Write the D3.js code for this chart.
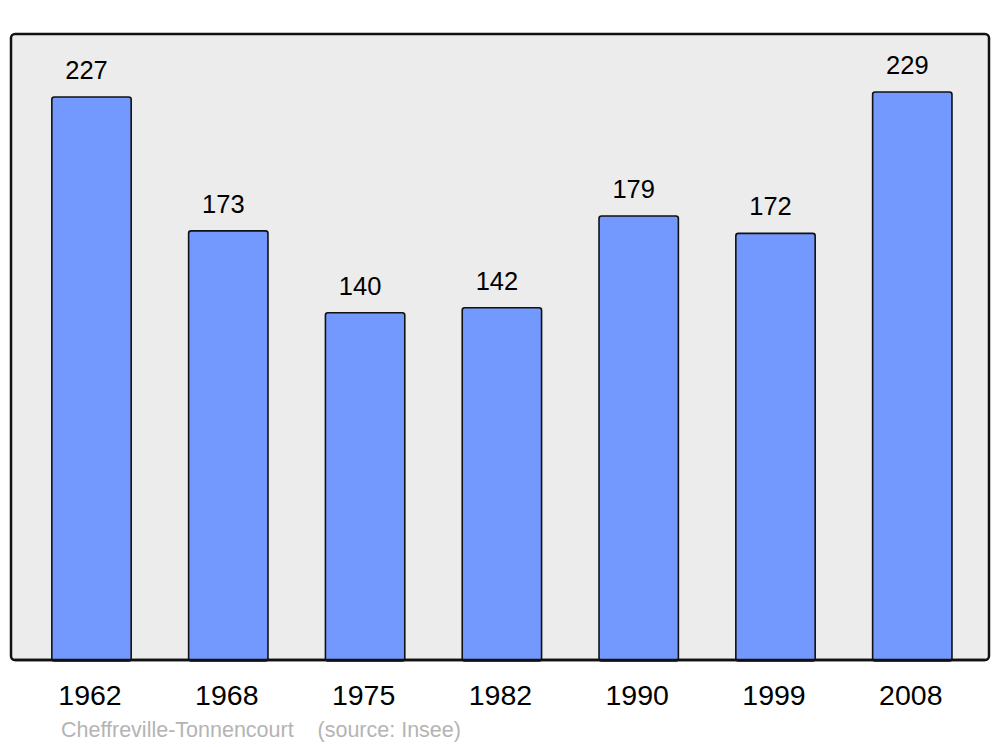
<!DOCTYPE html>
<html>
<head>
<meta charset="utf-8">
<script src="https://cdn.jsdelivr.net/npm/d3@7"></script>
<style>
  body { margin: 0; background: #fff; }
  text { font-family: "Liberation Sans", Arial, sans-serif; }
</style>
</head>
<body>
<div class="canvas"></div>
<script>
const years = ['1962', '1968', '1975', '1982', '1990', '1999', '2008'];
const population = [227, 173, 140, 142, 179, 172, 229];
const place = 'Cheffreville-Tonnencourt';
const source = '(source: Insee)';

const svg = d3.select('.canvas')
    .append('svg')
    .attr('width', 1000)
    .attr('height', 747);

// frame
svg.append('rect')
    .attr('x', 11)
    .attr('y', 34)
    .attr('width', 978)
    .attr('height', 626)
    .attr('rx', 4)
    .attr('fill', '#ececec')
    .attr('stroke', '#111')
    .attr('stroke-width', 2.5);

const x = d3.scaleBand()
    .domain(years)
    .range([23.1, 980.7])
    .paddingInner(0.42)
    .paddingOuter(0.21);

const y = d3.scaleLinear()
    .domain([0, d3.max(population)])
    .range([660, 92]);

const data = years.map((yr, i) => ({ year: yr, value: population[i] }));

const bars = svg.selectAll('g.bar')
    .data(data)
    .enter()
    .append('g')
    .attr('class', 'bar');

bars.append('rect')
    .attr('x', d => x(d.year))
    .attr('y', d => y(d.value))
    .attr('width', x.bandwidth())
    .attr('height', d => y(0) - y(d.value) + 1)
    .attr('rx', 2.5)
    .attr('fill', '#7399ff')
    .attr('stroke', '#111')
    .attr('stroke-width', 1.6);

// value labels
bars.append('text')
    .attr('x', d => x(d.year) + x.bandwidth() / 2 - 5)
    .attr('y', d => y(d.value) - 18)
    .attr('text-anchor', 'middle')
    .style('font-size', '25.5px')
    .attr('fill', '#000')
    .text(d => d.value);

// redraw frame bottom edge over bars
svg.append('line')
    .attr('x1', 15).attr('x2', 985)
    .attr('y1', 660).attr('y2', 660)
    .attr('stroke', '#111')
    .attr('stroke-width', 2.5);

// year labels
svg.selectAll('text.year')
    .data(years)
    .enter()
    .append('text')
    .attr('class', 'year')
    .attr('x', d => x(d) + x.bandwidth() / 2 - 1.5)
    .attr('y', 705)
    .attr('text-anchor', 'middle')
    .style('font-size', '28.5px')
    .attr('fill', '#000')
    .text(d => d);

svg.append('text')
    .attr('x', 61)
    .attr('y', 737)
    .style('font-size', '21.5px')
    .attr('fill', '#b4b4b4')
    .attr('xml:space', 'preserve')
    .text(place + '    ' + source);
</script>
</body>
</html>
